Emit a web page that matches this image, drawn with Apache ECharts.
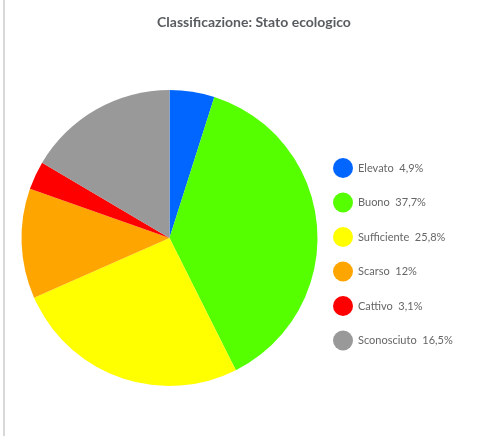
<!DOCTYPE html>
<html>
<head>
<meta charset="utf-8">
<script src="https://cdn.jsdelivr.net/npm/echarts@6/dist/echarts.min.js"></script>
<style>
  html, body { margin: 0; padding: 0; background: #fff; }
  #chart { width: 493px; height: 436px; }
</style>
</head>
<body>
<div id="chart"></div>
<script>
// Ecological status classification (percent of water bodies)
const categories = ['Elevato', 'Buono', 'Sufficiente', 'Scarso', 'Cattivo', 'Sconosciuto'];
const values = [4.9, 37.7, 25.8, 12, 3.1, 16.5];
const colors = ['#0066ff', '#55ff00', '#ffff00', '#ffa500', '#ff0000', '#999999'];

const fmt = v => String(v).replace('.', ',') + '%';
const valueByName = {};
categories.forEach((c, i) => { valueByName[c] = values[i]; });

const chart = echarts.init(document.getElementById('chart'));
chart.setOption({
  animation: false,
  backgroundColor: '#ffffff',
  title: {
    text: 'Classificazione: Stato ecologico',
    left: 249,
    textAlign: 'center',
    top: 10,
    textStyle: { fontFamily: 'Lato', fontSize: 14, fontWeight: 'bold', color: '#585c60' }
  },
  graphic: [{
    type: 'rect',
    shape: { x: 3, y: 0, width: 2, height: 436 },
    style: { fill: '#d8d8d8' }
  }],
  legend: {
    orient: 'vertical',
    left: 328,
    top: 153,
    icon: 'circle',
    itemWidth: 20,
    itemHeight: 20,
    itemGap: 14.5,
    data: categories,
    formatter: name => name + '  ' + fmt(valueByName[name]),
    textStyle: { fontFamily: 'Lato', fontSize: 11, color: '#666666' }
  },
  series: [{
    type: 'pie',
    center: [169.5, 238],
    radius: 148,
    startAngle: 90,
    clockwise: true,
    label: { show: false },
    labelLine: { show: false },
    emphasis: { disabled: true },
    data: categories.map((c, i) => ({ name: c, value: values[i], itemStyle: { color: colors[i] } }))
  }]
});
</script>
</body>
</html>
